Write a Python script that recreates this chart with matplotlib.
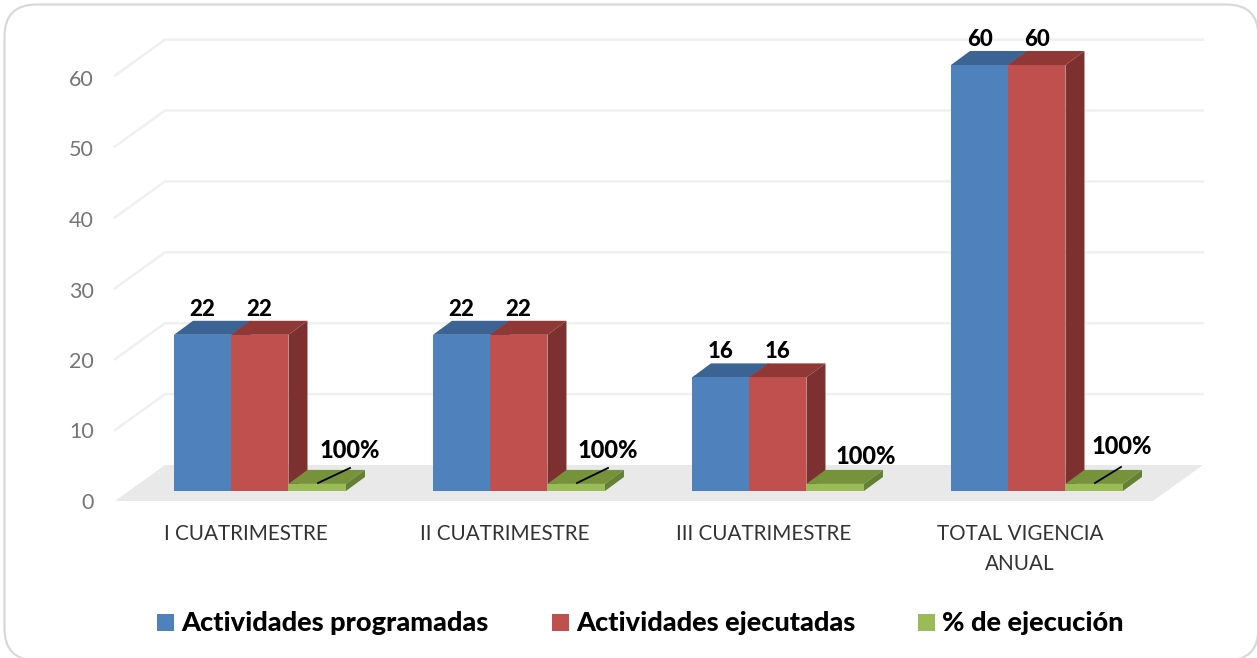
import matplotlib
matplotlib.use("Agg")
import matplotlib.pyplot as plt
import numpy as np
from matplotlib.patches import FancyBboxPatch, Polygon, Rectangle
from matplotlib.transforms import Affine2D

plt.rcParams['font.family'] = ['Lato', 'DejaVu Sans']

categories = ["I CUATRIMESTRE", "II CUATRIMESTRE", "III CUATRIMESTRE", "TOTAL VIGENCIA\nANUAL"]
programadas = [22, 22, 16, 60]
ejecutadas = [22, 22, 16, 60]
ejecucion = [1, 1, 1, 1]
ejecucion_labels = ["100%", "100%", "100%", "100%"]
yticks = [0, 10, 20, 30, 40, 50, 60]
series_names = ["Actividades programadas", "Actividades ejecutadas", "% de ejecución"]

W, H = 1257, 658
PX_X = 259.0   # pixels per category
PX_Y = 7.1     # pixels per unit
X0, Y0 = 260.5, 491.0  # pixel of category 0 centre / value 0 on the bar plane

fig = plt.figure(figsize=(W / 100, H / 100), dpi=100, facecolor="white")
ax = fig.add_axes([0, 0, 1, 1])
ax.set_xlim(-X0 / PX_X, (W - X0) / PX_X)
ax.set_ylim((Y0 - H) / PX_Y, Y0 / PX_Y)
ax.axis("off")

px = Affine2D().scale(1 / W, -1 / H).translate(0, 1) + fig.transFigure

# frame
ax.add_patch(FancyBboxPatch((4.5, 4.5), 1254, 656, boxstyle="round,pad=0,rounding_size=32",
                            transform=px, fc="white", ec="#d9d9d9", lw=1.6, zorder=0, clip_on=False))

# floor and wall gridlines
ax.add_patch(Polygon([(115, 501), (165, 465), (1203, 465), (1153, 501)], closed=True,
                     transform=px, fc="#e9e9e9", ec="none", zorder=1))
for v in yticks:
    yb = 465 - v * 7.09
    yf = 501 - v * 7.09
    if v:
        ax.plot([115, 165, 1203], [yf, yb, yb], transform=px, color="#f0f0f0", lw=1.8, zorder=1,
                solid_joinstyle="miter")
    ax.text(94, 503 - v * 7.05, str(v), transform=px, ha="right", va="center",
            fontsize=15.5, color="#757575", zorder=5)

# bars
w = 57.5 / PX_X
dx, dy = 19 / PX_X, 14 / PX_Y
x = np.arange(len(categories))
offs = [-1.5 * w - 0.001, -0.5 * w - 0.003, 0.5 * w - 0.003]
specs = [
    (programadas, offs[0], "#4f81bd", "#3b6393", "#3b6393"),
    (ejecutadas, offs[1], "#c0504d", "#8f3836", "#7c302f"),
    (ejecucion, offs[2], "#9bbb59", "#76933c", "#657f35"),
]
for vals, off, front, top, side in specs:
    for xi, v in zip(x, vals):
        left = xi + off
        ax.fill([left, left + dx, left + w + dx, left + w], [v, v + dy, v + dy, v], color=top, lw=0, zorder=3)
        ax.fill([left + w, left + w + dx, left + w + dx, left + w], [0, dy, v + dy, v], color=side, lw=0, zorder=3)
    ax.bar(x + off, vals, width=w, align="edge", color=front, lw=0, zorder=4)

# value labels
lab = dict(ha="center", va="center", fontsize=16, fontweight=900, color="black", zorder=6)
for xi, v in zip(x, programadas):
    ax.text(xi + offs[0] + 0.5 * w, v + 3.6, str(v), **lab)
for xi, v in zip(x, ejecutadas):
    ax.text(xi + offs[1] + 0.5 * w, v + 3.6, str(v), **lab)
label_y = [450, 450, 456, 447]
label_x = [350, 608, 866, 1122]
for lx, ly, s in zip(label_x, label_y, ejecucion_labels):
    ax.text(lx, ly, s, transform=px, **{**lab, "fontsize": 17})
for (a, b), (c, d) in [((318, 483), (350, 468)), ((577, 483), (608, 468)), ((1095, 483), (1121, 467))]:
    ax.plot([a, c], [b, d], transform=px, color="black", lw=1.3, zorder=6)

# category labels
cat_x = [246, 505, 764, 1020]
for cx, c in zip(cat_x, categories):
    ax.text(cx, 524, c, transform=px, ha="center", va="top", fontsize=14.9, color="#333333",
            linespacing=1.65, zorder=6)

# legend
leg_x = [157, 552, 918]
colors = ["#4f81bd", "#c0504d", "#9bbb59"]
for lx, n, col in zip(leg_x, series_names, colors):
    ax.add_patch(Rectangle((lx, 614), 17, 17, transform=px, fc=col, ec="none", zorder=6))
    ax.text(lx + 24, 623, n, transform=px, ha="left", va="center", fontsize=19.5,
            fontweight=900, color="black", zorder=6)

fig.savefig("out.png", dpi=100)
